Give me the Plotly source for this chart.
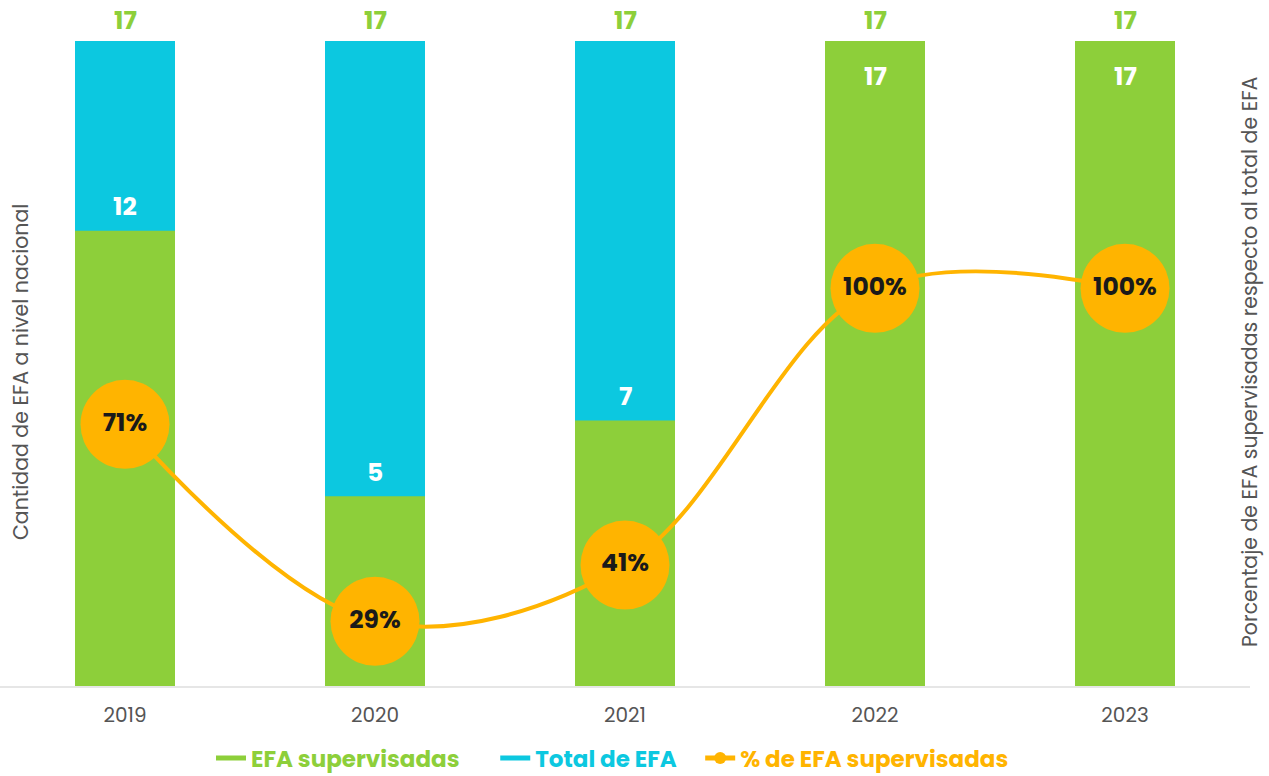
import plotly.graph_objects as go

years = ["2019", "2020", "2021", "2022", "2023"]
supervisadas = [12, 5, 7, 17, 17]
total = [17, 17, 17, 17, 17]
porcentaje = [71, 29, 41, 100, 100]
pct_labels = ["71%", "29%", "41%", "100%", "100%"]

GREEN = "#8DCF3A"
BLUE = "#0CC8E0"
ORANGE = "#FFB400"
FONT = "Poppins, Open Sans, sans-serif"
NB = "\u00a0"

xpos = list(range(len(years)))

fig = go.Figure()
fig.add_trace(go.Bar(
    x=xpos, y=total, name="Total de EFA", showlegend=False,
    marker=dict(color=BLUE, line=dict(width=0)), width=0.4,
    hoverinfo="skip",
))
fig.add_trace(go.Bar(
    x=xpos, y=supervisadas, name="EFA supervisadas", showlegend=False,
    marker=dict(color=GREEN, line=dict(width=0)), width=0.4,
    hoverinfo="skip",
))
# legend-only entries (wide colour swatches like the original legend)
fig.add_trace(go.Scatter(
    x=[None], y=[None], mode="lines", legendrank=1,
    name="<span style='color:" + GREEN + "'><b>EFA supervisadas</b></span>" + NB * 5,
    line=dict(color=GREEN, width=12),
))
fig.add_trace(go.Scatter(
    x=[None], y=[None], mode="lines", legendrank=2,
    name="<span style='color:" + BLUE + "'><b>Total de EFA</b></span>" + NB * 3,
    line=dict(color=BLUE, width=12),
))
fig.add_trace(go.Scatter(
    x=xpos, y=porcentaje, yaxis="y2", mode="lines+markers+text",
    name="<span style='color:" + ORANGE + "'><b>% de EFA supervisadas</b></span>",
    line=dict(color=ORANGE, width=4, shape="spline", smoothing=1.0),
    marker=dict(color=ORANGE, size=89, line=dict(width=0)),
    text=["<b>" + t + "</b>" for t in pct_labels], textposition="middle center",
    textfont=dict(family=FONT, size=25, color="#1A1A1A"),
    legendrank=3, cliponaxis=False, hoverinfo="skip",
))

annotations = []
for i, t in zip(xpos, total):
    annotations.append(dict(x=i, y=t, xref="x", yref="y", text="<b>%d</b>" % t,
                            showarrow=False, yshift=21,
                            font=dict(family=FONT, size=25, color=GREEN)))
for i, s, t in zip(xpos, supervisadas, total):
    shift = 24 if s < t else -35
    annotations.append(dict(x=i, y=s, xref="x", yref="y", text="<b>%d</b>" % s,
                            showarrow=False, yshift=shift,
                            font=dict(family=FONT, size=25, color="white")))
annotations.append(dict(x=20 / 1250.0, y=(686 - 372) / 671.0, xref="paper", yref="paper",
                        text="Cantidad de EFA a nivel nacional",
                        textangle=-90, showarrow=False, xanchor="center", yanchor="middle",
                        font=dict(family=FONT, size=20.5, color="#555555")))
annotations.append(dict(x=1250 / 1250.0, y=(686 - 362) / 671.0, xref="paper", yref="paper",
                        text="Porcentaje de EFA supervisadas respecto al total de EFA",
                        textangle=-90, showarrow=False, xanchor="center", yanchor="middle",
                        font=dict(family=FONT, size=20.5, color="#555555")))

fig.update_layout(
    width=1269, height=776,
    margin=dict(l=0, r=19, t=15, b=90, autoexpand=False),
    paper_bgcolor="white", plot_bgcolor="white",
    barmode="overlay",
    font=dict(family=FONT, color="#555555"),
    xaxis=dict(range=[-0.5, 4.5], tickvals=xpos, ticktext=years, showgrid=False,
               showline=True, linecolor="#E6E6E6", linewidth=2, automargin=False,
               ticks="outside", ticklen=10, tickcolor="rgba(0,0,0,0)",
               tickfont=dict(family=FONT, size=20, color="#555555"), zeroline=False),
    yaxis=dict(range=[0, 17.686], showgrid=False, showticklabels=False, zeroline=False,
               showline=False, automargin=False),
    yaxis2=dict(range=[15.2, 158.3], overlaying="y", side="right", showgrid=False,
                showticklabels=False, zeroline=False, showline=False, automargin=False),
    legend=dict(orientation="h", x=0.49, xanchor="center", y=(686 - 758) / 671.0, yanchor="middle",
                font=dict(family=FONT, size=23), traceorder="normal", itemsizing="constant"),
    annotations=annotations,
    showlegend=True,
)

fig.write_html("out.html", post_script="document.body.style.margin='0';",
               config={"displayModeBar": False})
